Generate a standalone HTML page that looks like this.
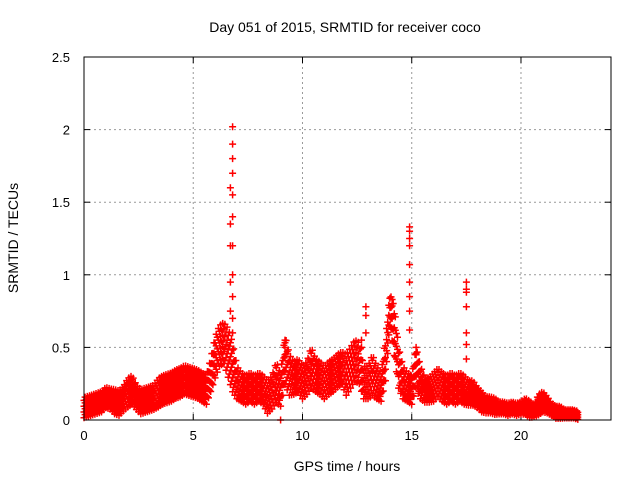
<!DOCTYPE html>
<html><head><meta charset="utf-8"><style>
body{margin:0;background:#fff}
svg{display:block;font-family:"Liberation Sans",sans-serif}
</style></head><body>
<svg id="chart" width="640" height="480">
<text x="345" y="32" text-anchor="middle" font-size="14">Day 051 of 2015, SRMTID for receiver coco</text>
<text x="347" y="471" text-anchor="middle" font-size="14">GPS time / hours</text>
<text x="18" y="238" text-anchor="middle" font-size="14" transform="rotate(-90 18 238)">SRMTID / TECUs</text>
<g id="grid"></g>
<g id="ticks"></g>
<g id="marks"></g>
<rect x="84" y="57" width="527" height="363" fill="none" stroke="#000" stroke-width="1"/>
</svg>
<script>
const xTicks=[0,5,10,15,20];
const yTicks=[0,0.5,1,1.5,2,2.5];
const yTickLabels=["0","0.5","1","1.5","2","2.5"];
const step=0.2;
const midVals=[0.08,0.09,0.10,0.11,0.12,0.15,0.14,0.12,0.11,0.14,0.18,0.20,0.15,0.12,0.13,0.14,0.15,0.18,0.20,0.21,0.22,0.24,0.25,0.27,0.26,0.25,0.24,0.22,0.20,0.30,0.42,0.50,0.52,0.45,0.35,0.25,0.22,0.20,0.22,0.20,0.22,0.20,0.15,0.18,0.25,0.20,0.40,0.30,0.28,0.30,0.25,0.28,0.35,0.30,0.28,0.25,0.28,0.30,0.33,0.35,0.30,0.35,0.40,0.38,0.25,0.25,0.30,0.25,0.22,0.40,0.75,0.60,0.35,0.25,0.22,0.20,0.35,0.25,0.20,0.20,0.22,0.25,0.22,0.20,0.22,0.20,0.22,0.20,0.18,0.18,0.15,0.12,0.10,0.10,0.09,0.08,0.08,0.07,0.08,0.07,0.08,0.09,0.07,0.06,0.10,0.12,0.10,0.07,0.05,0.05,0.04,0.04,0.04,0.03];
const spreadVals=[0.05,0.05,0.05,0.05,0.05,0.05,0.05,0.06,0.06,0.06,0.07,0.07,0.06,0.06,0.06,0.06,0.06,0.07,0.07,0.07,0.07,0.07,0.07,0.07,0.07,0.07,0.07,0.07,0.07,0.08,0.1,0.1,0.1,0.12,0.12,0.08,0.07,0.07,0.07,0.07,0.07,0.07,0.08,0.08,0.1,0.08,0.12,0.1,0.08,0.08,0.08,0.08,0.1,0.08,0.08,0.08,0.08,0.08,0.08,0.08,0.1,0.1,0.1,0.1,0.08,0.08,0.1,0.08,0.07,0.1,0.08,0.12,0.1,0.08,0.07,0.07,0.1,0.08,0.06,0.06,0.07,0.07,0.07,0.07,0.07,0.07,0.07,0.07,0.06,0.06,0.05,0.05,0.04,0.04,0.04,0.03,0.03,0.03,0.03,0.03,0.03,0.04,0.04,0.03,0.05,0.05,0.04,0.03,0.03,0.03,0.02,0.02,0.02,0.02];
const spikeX=[6.8,6.8,6.8,6.8,6.8,6.8,6.8,6.8,6.8,6.8,6.8,6.7,6.7,6.7,6.7,6.7,12.9,12.9,12.9,14.1,14.1,14.1,14.9,14.9,14.9,14.9,14.9,14.9,14.9,14.9,14.9,15.2,15.2,17.5,17.5,17.5,17.5,17.5,17.5,17.5,9.2,9.2,9.2,12.7,12.7,9.0];
const spikeY=[2.02,1.9,1.8,1.7,1.55,1.4,1.2,1.0,0.85,0.7,0.6,1.6,1.35,1.2,0.95,0.75,0.78,0.72,0.6,0.83,0.8,0.7,1.33,1.3,1.25,1.2,1.07,0.95,0.85,0.75,0.62,0.5,0.45,0.95,0.9,0.88,0.78,0.6,0.52,0.42,0.55,0.5,0.45,0.5,0.55,0.0];
const NS="http://www.w3.org/2000/svg";
const X0=84,X1=611,Y0=420,Y1=57,XMAX=24.12,YMAX=2.5;
function sx(v){return X0+v/XMAX*(X1-X0);}
function sy(v){return Y0-v/YMAX*(Y0-Y1);}
function mk(tag,attrs,parent){const e=document.createElementNS(NS,tag);for(const k in attrs)e.setAttribute(k,attrs[k]);parent.appendChild(e);return e;}
const grid=document.getElementById('grid'),ticks=document.getElementById('ticks'),marks=document.getElementById('marks');
xTicks.forEach(t=>{const x=sx(t);
 if(t>0){const g=mk('line',{x1:x,x2:x,y1:Y1,y2:Y0,stroke:'#999','stroke-dasharray':'2,3'},grid);
 
 }
 mk('line',{x1:x,x2:x,y1:Y0,y2:Y0-6,stroke:'#000'},ticks);mk('line',{x1:x,x2:x,y1:Y1,y2:Y1+6,stroke:'#000'},ticks);
 const l=mk('text',{x:x,y:Y0+20,'text-anchor':'middle','font-size':13},ticks);l.textContent=t;
 
 });
yTicks.forEach((t,i)=>{const y=sy(t);
 if(t>0&&t<2.5){const g=mk('line',{x1:X0,x2:X1,y1:y,y2:y,stroke:'#999','stroke-dasharray':'2,3'},grid);
 
 }
 mk('line',{x1:X0,x2:X0+6,y1:y,y2:y,stroke:'#000'},ticks);mk('line',{x1:X1,x2:X1-6,y1:y,y2:y,stroke:'#000'},ticks);
 const l=mk('text',{x:X0-14,y:y+5,'text-anchor':'end','font-size':13},ticks);l.textContent=yTickLabels[i];
 
 });
let d="";
function plus(t,v){const x=sx(t),y=sy(Math.max(0,v));d+=`M${(x-3.5).toFixed(1)} ${y.toFixed(1)}h7M${x.toFixed(1)} ${(y-3.5).toFixed(1)}v7`;}
const offs=[-1.3,-0.9,-0.5,-0.1,0.3,0.7,1.1,1.5];
midVals.forEach((m,i)=>{const last=i+1>=midVals.length;
 const mn=last?m:midVals[i+1],sn=last?spreadVals[i]:spreadVals[i+1];
 for(let k=0;k<4;k++){const f=k/4;const t=i*step+f*step;const mm=m+(mn-m)*f,ss=spreadVals[i]+(sn-spreadVals[i])*f;
  if(last&&k>0)break;
  offs.forEach((o,j)=>{if((j+k)%2===0)plus(t,mm+o*ss);});}
});
spikeX.forEach((t,i)=>plus(t,spikeY[i]));
const p=mk('path',{d:d,stroke:'#f00','stroke-width':1.5,fill:'none'},marks);


</script>
</body></html>
